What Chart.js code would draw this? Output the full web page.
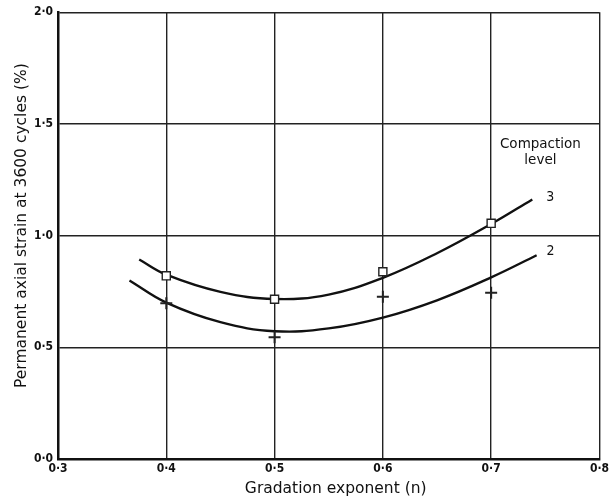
<!DOCTYPE html>
<html>
<head>
<meta charset="utf-8">
<script src="https://cdn.jsdelivr.net/npm/chart.js@4/dist/chart.umd.min.js"></script>
<style>
html,body{margin:0;padding:0;background:#fff;}
#wrap{width:612px;height:502px;}
</style>
</head>
<body>
<div id="wrap"><canvas id="c" width="612" height="502"></canvas></div>
<script>
// Fitted curves
const curve3X = [0.375, 0.40, 0.45, 0.50, 0.55, 0.60, 0.65, 0.70, 0.738];
const curve3Y = [0.893, 0.825, 0.748, 0.716, 0.736, 0.811, 0.921, 1.052, 1.162];
const curve2X = [0.366, 0.40, 0.45, 0.50, 0.55, 0.60, 0.65, 0.70, 0.742];
const curve2Y = [0.799, 0.700, 0.6125, 0.572, 0.5845, 0.633, 0.7105, 0.813, 0.912];
// Measured points
const pointsX = [0.4, 0.5, 0.6, 0.7];
const level3Values = [0.820, 0.715, 0.838, 1.055];
const level2Values = [0.697, 0.545, 0.726, 0.744];
// Axis ticks
const xTickValues = [0.3, 0.4, 0.5, 0.6, 0.7, 0.8];
const yTickValues = [0.0, 0.5, 1.0, 1.5, 2.0];
const xTitle = 'Gradation exponent (n)';
const yTitle = 'Permanent axial strain at 3600 cycles (%)';
const legendTitle = ['Compaction', 'level'];
const curveLabels = ['3', '2'];

const pts = (xs, ys) => xs.map((x, i) => ({x: x, y: ys[i]}));
const fmt = v => v.toFixed(1).replace('.', '\u00B7');

const labelPlugin = {
  id: 'labels',
  afterDraw(chart) {
    const ctx = chart.ctx;
    const xs = chart.scales.x, ys = chart.scales.y;
    const area = chart.chartArea;
    ctx.save();
    ctx.fillStyle = '#111';
    ctx.textAlign = 'center';
    ctx.textBaseline = 'middle';
    // axis titles
    ctx.font = '15.5px "DejaVu Sans"';
    ctx.fillText(xTitle, (area.left + area.right) / 2 + 7, area.bottom + 30);
    ctx.save();
    ctx.translate(22, (area.top + area.bottom) / 2 - 10);
    ctx.rotate(-Math.PI / 2);
    ctx.fillText(yTitle, 0, 0);
    ctx.restore();
    // legend-like annotations
    ctx.font = '13.5px "DejaVu Sans"';
    const lx = xs.getPixelForValue(0.7455);
    ctx.fillText(legendTitle[0], lx, ys.getPixelForValue(1.41));
    ctx.fillText(legendTitle[1], lx, ys.getPixelForValue(1.335));
    ctx.font = '14px "DejaVu Sans Condensed"';
    const c3 = curve3X.length - 1, c2 = curve2X.length - 1;
    ctx.fillText(curveLabels[0], xs.getPixelForValue(curve3X[c3]) + 18, ys.getPixelForValue(curve3Y[c3]) - 2);
    ctx.fillText(curveLabels[1], xs.getPixelForValue(curve2X[c2]) + 14, ys.getPixelForValue(curve2Y[c2]) - 4);
    ctx.restore();
  }
};

new Chart(document.getElementById('c'), {
  type: 'scatter',
  data: {
    datasets: [
      {data: pts(pointsX, level3Values), pointStyle: 'rect', pointRadius: 5.7, pointBorderWidth: 1.4,
       borderColor: '#222', backgroundColor: '#fff', showLine: false, order: 0},
      {data: pts(pointsX, level2Values), pointStyle: 'cross', pointRadius: 6, pointBorderWidth: 2,
       borderColor: '#222', backgroundColor: '#222', showLine: false, order: 1},
      {data: pts(curve3X, curve3Y), showLine: true, pointRadius: 0, borderColor: '#111', borderWidth: 2.4,
       tension: 0.4, fill: false, order: 2},
      {data: pts(curve2X, curve2Y), showLine: true, pointRadius: 0, borderColor: '#111', borderWidth: 2.4,
       tension: 0.4, fill: false, order: 3}
    ]
  },
  options: {
    responsive: false,
    animation: false,
    events: [],
    layout: {padding: {top: 12, right: 9, left: 0, bottom: 0}},
    plugins: {legend: {display: false}, tooltip: {enabled: false}},
    scales: {
      x: {
        type: 'linear', min: 0.3, max: 0.8,
        afterBuildTicks: s => { s.ticks = xTickValues.map(v => ({value: v})); },
        afterFit: s => { s.height = 43; },
        grid: {color: '#222', lineWidth: 1.4, drawTicks: false},
        border: {color: '#111', width: 2.5},
        ticks: {callback: v => fmt(v), color: '#111', padding: 3, maxRotation: 0,
                font: {family: '"DejaVu Sans Condensed"', size: 12, weight: 'bold'}},
        title: {display: false}
      },
      y: {
        type: 'linear', min: 0, max: 2.0,
        afterBuildTicks: s => { s.ticks = yTickValues.map(v => ({value: v})); },
        afterFit: s => { s.width = 58; },
        grid: {color: '#222', lineWidth: 1.4, drawTicks: false},
        border: {color: '#111', width: 2.5},
        ticks: {callback: v => fmt(v), color: '#111', padding: 5,
                font: {family: '"DejaVu Sans Condensed"', size: 12, weight: 'bold'}},
        title: {display: false}
      }
    }
  },
  plugins: [labelPlugin]
});
</script>
</body>
</html>
